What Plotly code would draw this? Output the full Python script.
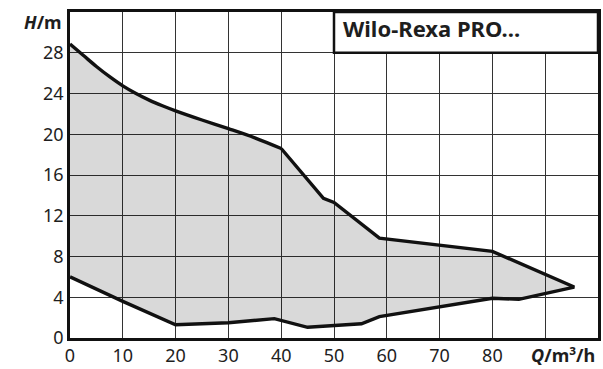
import plotly.graph_objects as go

# Upper (max) curve
q_upper = [0, 2.5, 5, 7.5, 10, 12.5, 15, 17.5, 20, 25, 30, 35, 40, 48, 50, 58.6, 80, 95.5]
h_upper = [28.85, 27.75, 26.65, 25.65, 24.75, 24.0, 23.35, 22.8, 22.3, 21.4, 20.55, 19.65, 18.6,
           13.7, 13.3, 9.8, 8.5, 5.0]
# Lower (min) curve
q_lower = [95.5, 85, 80, 58.6, 55.2, 45, 38.7, 30, 20, 10, 0]
h_lower = [5.0, 3.8, 3.9, 2.1, 1.4, 1.05, 1.9, 1.5, 1.3, 3.6, 6.0]

x_ticks = [0, 10, 20, 30, 40, 50, 60, 70, 80, 90, 100]
x_labels = ["0", "10", "20", "30", "40", "50", "60", "70", "80", "", ""]
y_ticks = [0, 4, 8, 12, 16, 20, 24, 28, 32]
y_labels = ["0", "4", "8", "12", "16", "20", "24", "28", ""]

title_text = "Wilo-Rexa PRO..."

FONT = "Noto Sans"
TXT = "#1e1e1e"
LINE = dict(color="#111111", width=3.4)

# index where the smooth part of the upper curve ends (Q = 40)
k = q_upper.index(40)

fig = go.Figure()
# shaded operating range
fig.add_trace(go.Scatter(
    x=q_upper + q_lower, y=h_upper + h_lower,
    mode="lines", fill="toself", fillcolor="rgba(0,0,0,0.15)",
    line=dict(width=0), hoverinfo="skip", showlegend=False,
))
# smooth part of the max curve
fig.add_trace(go.Scatter(
    x=q_upper[:k + 1], y=h_upper[:k + 1], mode="lines",
    line=dict(shape="spline", smoothing=1.0, **LINE),
    hoverinfo="skip", showlegend=False,
))
# remaining polygonal outline
fig.add_trace(go.Scatter(
    x=q_upper[k:] + q_lower, y=h_upper[k:] + h_lower, mode="lines",
    line=LINE, hoverinfo="skip", showlegend=False,
))

axis_common = dict(showgrid=True, gridcolor="#333", gridwidth=1,
                   showline=True, linecolor="#111", linewidth=2.5, mirror=True,
                   zeroline=False, ticks="", ticklen=0,
                   tickfont=dict(family=FONT, size=18, color=TXT), fixedrange=True)

fig.update_layout(
    width=603, height=369,
    margin=dict(l=70, r=2, t=12, b=30),
    paper_bgcolor="white", plot_bgcolor="white",
    font=dict(family=FONT, size=18, color=TXT),
    xaxis=dict(range=[0, 100], tickvals=x_ticks, ticktext=x_labels, **axis_common),
    yaxis=dict(range=[0, 32], tickvals=y_ticks, ticktext=y_labels, **axis_common),
)

fig.add_shape(type="rect", xref="x", yref="y", x0=50, x1=100, y0=28, y1=32,
              fillcolor="white", line=dict(color="#111", width=2.5), layer="above")
fig.add_annotation(x=51.4, y=30.45, xref="x", yref="y", text="<b>" + title_text + "</b>",
                   showarrow=False, xanchor="left", yanchor="middle",
                   font=dict(family=FONT, size=22, color=TXT))
fig.add_annotation(x=0, y=1, xref="paper", yref="paper", text="<b><i>H</i>/m</b>",
                   showarrow=False, xanchor="right", yanchor="middle",
                   xshift=-6, yshift=-10,
                   font=dict(family=FONT, size=18, color=TXT))
fig.add_annotation(x=1, y=0, xref="paper", yref="paper", text="<b><i>Q</i>/m³/h</b>",
                   showarrow=False, xanchor="right", yanchor="middle",
                   xshift=-1, yshift=-17,
                   font=dict(family=FONT, size=18, color=TXT))

fig.write_html("out.html", config={"displayModeBar": False},
               post_script="document.body.style.margin='0';")
